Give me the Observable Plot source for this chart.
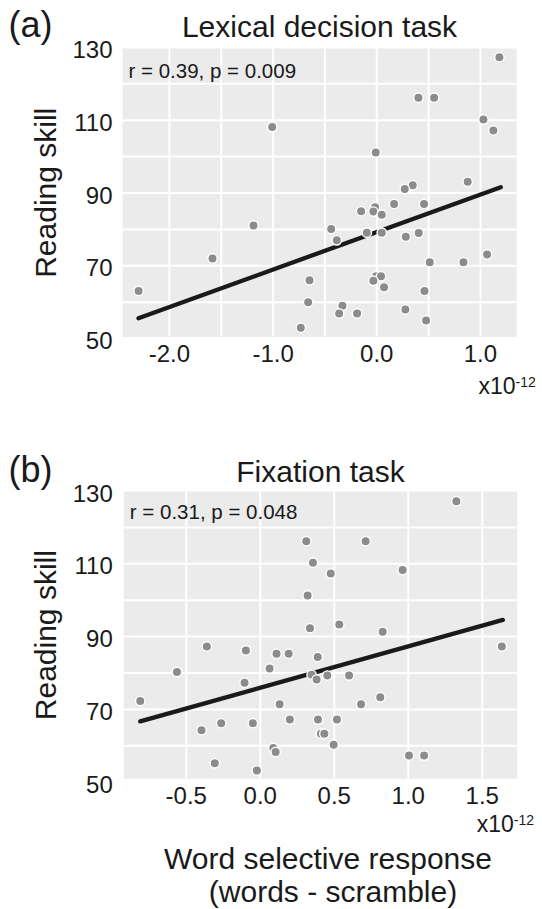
<!DOCTYPE html>
<html>
<head>
<meta charset="utf-8">
<script src="https://cdn.jsdelivr.net/npm/d3@7"></script>
<script src="https://cdn.jsdelivr.net/npm/@observablehq/plot@0.6"></script>
<style>
  html, body { margin: 0; padding: 0; background: #ffffff; }
  #chart svg { display: block; }
</style>
</head>
<body>
<div id="chart"></div>
<script>
// ---------- Data (x in units of 1e-12) ----------
// Panel (a): Lexical decision task
const lexX = [1.183, 0.402, 0.553, -1.009, 1.029, 1.125, -0.010, 0.877, 0.347, 0.270,
              0.167, 0.456, -0.016, -0.033, -0.151, 0.048, -1.189, -0.440, -0.386, -0.096,
              0.048, 0.280, 0.405, -1.585, 1.064, 0.511, 0.836, -2.298, -0.649, -0.007,
              0.041, -0.033, 0.070, 0.460, -0.662, -0.331, -0.363, -0.190, 0.276, 0.476, -0.733];
const lexY = [127.3, 116.2, 116.2, 108.1, 110.2, 107.2, 101.1, 93.1, 92.1, 91.1,
              87.0, 87.0, 86.1, 84.9, 85.0, 84.0, 81.1, 80.1, 77.0, 79.1,
              79.1, 78.0, 79.0, 72.0, 73.1, 71.0, 71.0, 63.1, 66.0, 67.1,
              67.1, 65.9, 64.1, 63.1, 60.0, 59.0, 56.9, 56.9, 58.0, 55.0, 53.0];
const lexFitX = [-2.299, 1.196];
const lexFitY = [55.6, 91.6];
const lexStat = "r = 0.39, p = 0.009";

// Panel (b): Fixation task
const fixX = [1.325, 0.311, 0.712, 0.356, 0.476, 0.962, 0.320, 0.336, 0.534, 0.827,
              1.632, -0.361, -0.097, 0.110, 0.192, 0.388, 0.063, -0.563, -0.106, 0.347,
              0.381, 0.453, 0.600, -0.811, 0.131, 0.681, 0.811, -0.397, -0.264, -0.050,
              0.200, 0.390, 0.518, 0.410, 0.433, 0.496, 0.088, 0.104, -0.307, -0.023, 1.005, 1.107];
const fixY = [127.2, 116.2, 116.2, 110.3, 107.3, 108.3, 101.3, 92.3, 93.3, 91.3,
              87.3, 87.3, 86.2, 85.3, 85.3, 84.4, 81.2, 80.3, 77.3, 79.5,
              78.2, 79.3, 79.3, 72.3, 71.4, 71.4, 73.3, 64.3, 66.2, 66.2,
              67.2, 67.2, 67.2, 63.3, 63.3, 60.3, 59.4, 58.3, 55.2, 53.2, 57.3, 57.3];
const fixFitX = [-0.811, 1.639];
const fixFitY = [66.7, 94.6];
const fixStat = "r = 0.31, p = 0.048";

// Ticks
const lexGridX = [-2, -1.5, -1, -0.5, 0, 0.5, 1];
const lexTickX = [-2, -1, 0, 1];
const fixGridX = [-0.5, 0, 0.5, 1, 1.5];
const fixTickX = [-0.5, 0, 0.5, 1, 1.5];
const gridYVals = [60, 70, 80, 90, 100, 110, 120];
const tickYVals = [50, 70, 90, 110, 130];

const titles = ["Lexical decision task", "Fixation task"];
const letters = ["(a)", "(b)"];
const yTitle = "Reading skill";
const xTitleLines = ["Word selective response", "(words - scramble)"];
const expBase = "x10";
const expPow = "-12";

// ---------- Styling ----------
const ink = "#1a1a1a";
const panelBg = "#EBEBEB";
const dotFill = "#8C8C8C";
const font = "'Liberation Sans', Arial, Helvetica, sans-serif";

function panel(cfg) {
  const pts = cfg.xs.map((x, i) => ({x, y: cfg.ys[i]}));
  const fit = cfg.fitX.map((x, i) => ({x, y: cfg.fitY[i]}));
  const marks = [
    Plot.frame({fill: panelBg, stroke: null}),
    Plot.gridX(cfg.gridX, {stroke: "white", strokeOpacity: 1, strokeWidth: 2}),
    Plot.gridY(gridYVals, {stroke: "white", strokeOpacity: 1, strokeWidth: 2}),
    Plot.axisX(cfg.tickX, {tickSize: 0, tickPadding: 8, fontSize: 24, fill: ink,
      tickFormat: d => d.toFixed(1), label: null}),
    Plot.axisY(tickYVals, {tickSize: 0, tickPadding: cfg.yPad, fontSize: 24, fill: ink,
      dy: 3, tickFormat: d => String(d), label: null}),
    Plot.text([cfg.stat], {text: d => d, frameAnchor: "top-left", dx: 6, dy: cfg.statDy,
      textAnchor: "start", lineAnchor: "bottom", fontSize: 20.5, fill: ink}),
    Plot.line(fit, {x: "x", y: "y", stroke: ink, strokeWidth: 4.3}),
    Plot.dot(pts, {x: "x", y: "y", r: 4.7, fill: dotFill, stroke: "white", strokeWidth: 1.4}),
    Plot.text([cfg.letter], {text: d => d, frameAnchor: "top-left", dx: 8 - cfg.ml, dy: cfg.titleDy,
      textAnchor: "start", lineAnchor: "bottom", fontSize: 36, fill: ink}),
    Plot.text([cfg.title], {text: d => d, frameAnchor: "top", dy: cfg.titleDy,
      textAnchor: "middle", lineAnchor: "bottom", fontSize: 30, fill: ink}),
    Plot.text([yTitle], {text: d => d, frameAnchor: "left", dx: 55 - cfg.ml, rotate: -90,
      textAnchor: "middle", lineAnchor: "bottom", fontSize: 30, fill: ink}),
    Plot.text([expBase], {text: d => d, frameAnchor: "bottom-right", dx: cfg.expDx, dy: cfg.expDy,
      textAnchor: "end", lineAnchor: "bottom", fontSize: 23, fill: ink}),
    Plot.text([expPow], {text: d => d, frameAnchor: "bottom-right", dx: cfg.expDx, dy: cfg.expDy - 7,
      textAnchor: "start", lineAnchor: "bottom", fontSize: 14, fill: ink})
  ];
  if (cfg.xTitle) {
    marks.push(
      Plot.text([xTitleLines[0]], {text: d => d, frameAnchor: "bottom", dx: 7.5, dy: 90,
        textAnchor: "middle", lineAnchor: "bottom", fontSize: 30, fill: ink}),
      Plot.text([xTitleLines[1]], {text: d => d, frameAnchor: "bottom", dx: 12.5, dy: 123.4,
        textAnchor: "middle", lineAnchor: "bottom", fontSize: 30, fill: ink})
    );
  }
  return Plot.plot({
    width: 542,
    height: cfg.height,
    marginTop: cfg.mt,
    marginLeft: cfg.ml,
    marginRight: cfg.mr,
    marginBottom: cfg.mb,
    x: {domain: cfg.xDomain},
    y: {domain: cfg.yDomain},
    style: {fontFamily: font, background: "white", overflow: "visible", color: ink},
    marks
  });
}

const chart = document.getElementById("chart");
chart.appendChild(panel({
  xs: lexX, ys: lexY, fitX: lexFitX, fitY: lexFitY, stat: lexStat,
  gridX: lexGridX, tickX: lexTickX,
  xDomain: [-2.453, 1.348], yDomain: [50.44, 129.7],
  height: 440, mt: 48, ml: 122, mr: 26, mb: 103.5, yPad: 10,
  statDy: 29, titleDy: -12, expDx: -1, expDy: 56.8,
  letter: letters[0], title: titles[0], xTitle: false
}));
chart.appendChild(panel({
  xs: fixX, ys: fixY, fitX: fixFitX, fitY: fixFitY, stat: fixStat,
  gridX: fixGridX, tickX: fixTickX,
  xDomain: [-0.922, 1.736], yDomain: [50.93, 129.86],
  height: 469, mt: 51, ml: 123.3, mr: 25.3, mb: 130.7, yPad: 11,
  statDy: 27.3, titleDy: -10, expDx: -3.4, expDy: 53.4,
  letter: letters[1], title: titles[1], xTitle: true
}));
</script>
</body>
</html>
